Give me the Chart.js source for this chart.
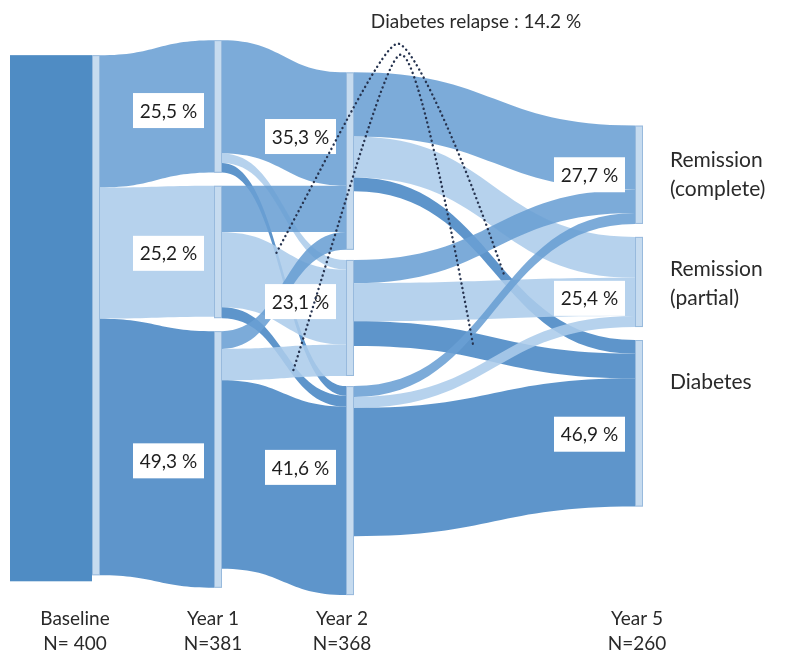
<!DOCTYPE html>
<html lang="en">
<head>
<meta charset="UTF-8">
<title>Diabetes remission after surgery</title>
<script src="https://cdn.jsdelivr.net/npm/chart.js@4.4.1/dist/chart.umd.min.js"></script>
<style>
    html, body { margin: 0; padding: 0; background: #fff; }
    #wrap { width: 785px; height: 662px; }
</style>
</head>
<body>
<div id="wrap"><canvas id="myChart"></canvas></div>
<script>
// Time points and sample sizes
const columns = ['Baseline', 'Year 1', 'Year 2', 'Year 5'];
const tickLabels = [['Baseline', 'N= 400'], ['Year 1', 'N=381'], ['Year 2', 'N=368'], ['Year 5', 'N=260']];
const columnN = [400, 381, 368, 260];
const states = [['Remission', '(complete)'], ['Remission', '(partial)'], ['Diabetes']];

// % in each state (complete, partial, diabetes)
const pctYear1 = [25.5, 25.2, 49.3];
const pctYear2 = [35.3, 23.1, 41.6];
const pctYear5 = [27.7, 25.4, 46.9];

// patients moving between states, rows = from, cols = to
const flowBaseYear1 = [[97, 96, 188]];
const flowYear1Year2 = [
    [83, 7, 7],
    [34, 55, 8],
    [13, 23, 138]
];
const flowYear2Year5 = [
    [47, 30, 10],
    [17, 28, 18],
    [8, 8, 94]
];
const relapseText = 'Diabetes relapse : 14.2 %';

// layout (x in px units, y in patient units)
const colX = [92, 214, 346, 635];
const barW = 8;
const baseBoxX = 10;
const colTop = [40.4, 29.4, 53, 92];
const colGap = [0, 9.5, 7.4, 9.5];
const tickX = [75, 213, 342, 637];
const pctShift = [[3, 1, 1], [-18, -12, -17], [0, 12, 8]];
const stateShift = [0, 1, -30];
const note = { x: 476, y: 16 };
// dotted loops: [left link, t, right link, t, peak x, peak y]
const loops = [
    [[1, 0, 2], 0.42, [2, 0, 2], 0.55, 398, 32],
    [[1, 1, 2], 0.6, [2, 1, 2], 0.4, 401, 40]
];

const flowColors = ['rgba(106,159,212,0.88)', 'rgba(172,204,234,0.88)', 'rgba(76,137,197,0.9)'];
const baseBoxColor = '#4f8cc4';
const barColor = '#c6dbef';
const font = 'Lato, "Noto Sans", sans-serif';

function buildLayout() {
    const pcts = [null, pctYear1, pctYear2, pctYear5];
    const mats = [flowBaseYear1, flowYear1Year2, flowYear2Year5];
    const nodes = [];
    for (let c = 0; c < columns.length; c++) {
        const count = c === 0 ? 1 : 3;
        const col = [];
        let y = colTop[c];
        for (let k = 0; k < count; k++) {
            const outSum = c < mats.length ? mats[c][k].reduce((a, b) => a + b, 0) : 0;
            const inSum = c > 0 ? mats[c - 1].reduce((a, row) => a + row[k], 0) : 0;
            const val = c === 0 ? 0 : pcts[c][k] * columnN[c] / 100;
            const h = Math.max(val, inSum, outSum);
            col.push({ top: y, h: h, pct: c === 0 ? null : pcts[c][k], outOff: 0, inOff: 0 });
            y += h + colGap[c];
        }
        nodes.push(col);
    }
    const links = [];
    mats.forEach((m, c) => {
        m.forEach((row, s) => {
            row.forEach((v, t) => {
                const src = nodes[c][s];
                links.push({ col: c, source: s, target: t, value: v, y0: src.top + src.outOff, y1: 0 });
                src.outOff += v;
            });
        });
        // target offsets follow source order
        for (let t = 0; t < 3; t++) {
            links.filter(l => l.col === c && l.target === t)
                .sort((a, b) => a.source - b.source)
                .forEach(l => {
                    const dst = nodes[c + 1][t];
                    l.y1 = dst.top + dst.inOff;
                    dst.inOff += l.value;
                });
        }
    });
    return { nodes, links };
}

const sankeyPlugin = {
    id: 'sankey',
    afterDraw(chart) {
        const ctx = chart.ctx;
        const xs = chart.scales.x, ys = chart.scales.y;
        const px = v => xs.getPixelForValue(v);
        const py = v => ys.getPixelForValue(v);
        const { nodes, links } = buildLayout();
        ctx.save();

        // flows
        links.forEach(l => {
            const x0 = px(colX[l.col] + barW), x1 = px(colX[l.col + 1]);
            const a0 = py(l.y0), a1 = py(l.y0 + l.value);
            const b0 = py(l.y1), b1 = py(l.y1 + l.value);
            const xm = (x0 + x1) / 2;
            ctx.beginPath();
            ctx.moveTo(x0, a0);
            ctx.bezierCurveTo(xm, a0, xm, b0, x1, b0);
            ctx.lineTo(x1, b1);
            ctx.bezierCurveTo(xm, b1, xm, a1, x0, a1);
            ctx.closePath();
            ctx.fillStyle = flowColors[l.target];
            ctx.fill();
        });

        // baseline box
        const b = nodes[0][0];
        ctx.fillStyle = baseBoxColor;
        ctx.fillRect(px(baseBoxX), py(b.top), px(colX[0]) - px(baseBoxX), py(b.top + b.h) - py(b.top) + 6);

        // node bars
        nodes.forEach((col, c) => {
            col.forEach(n => {
                const x = px(colX[c]), y = py(n.top);
                const h = py(n.top + n.h) - y;
                ctx.fillStyle = barColor;
                ctx.fillRect(x, y, barW, h);
                ctx.strokeStyle = 'rgba(140,178,216,0.8)';
                ctx.lineWidth = 1;
                ctx.strokeRect(x + 0.5, y + 0.5, barW - 1, h - 1);
            });
        });

        // percent boxes
        ctx.font = '19px ' + font;
        ctx.textAlign = 'center';
        ctx.textBaseline = 'middle';
        nodes.forEach((col, c) => {
            if (c === 0) return;
            col.forEach((n, k) => {
                const cy = py(n.top + n.h / 2 + pctShift[c - 1][k]);
                const right = px(colX[c]) - 10;
                const w = 71, h = 35;
                ctx.fillStyle = '#fff';
                ctx.fillRect(right - w, cy - h / 2, w, h);
                ctx.fillStyle = '#1e1e1e';
                ctx.fillText(n.pct.toFixed(1).replace('.', ',') + ' %', right - w / 2, cy + 1);
            });
        });

        // state names at the right
        ctx.font = '21px ' + font;
        ctx.textAlign = 'left';
        ctx.fillStyle = '#2a2a2a';
        nodes[3].forEach((n, k) => {
            const lines = states[k];
            const cy = py(n.top + n.h / 2 + stateShift[k]);
            const lh = 29;
            lines.forEach((s, i) => {
                ctx.fillText(s, px(colX[3] + barW) + 27, cy + (i - (lines.length - 1) / 2) * lh);
            });
        });

        // relapse note
        ctx.font = '19px ' + font;
        ctx.textAlign = 'center';
        ctx.fillStyle = '#2a2a2a';
        ctx.fillText(relapseText, px(note.x), py(note.y));

        // dotted loops along the relapse flows
        const linkPoint = (key, t) => {
            const l = links.find(q => q.col === key[0] && q.source === key[1] && q.target === key[2]);
            const x0 = px(colX[l.col] + barW), x1 = px(colX[l.col + 1]);
            const y0 = py(l.y0 + l.value / 2), y1 = py(l.y1 + l.value / 2);
            const xm = (x0 + x1) / 2, mt = 1 - t;
            return {
                x: mt * mt * mt * x0 + 3 * mt * mt * t * xm + 3 * mt * t * t * xm + t * t * t * x1,
                y: mt * mt * mt * y0 + 3 * mt * mt * t * y0 + 3 * mt * t * t * y1 + t * t * t * y1
            };
        };
        ctx.strokeStyle = '#26334f';
        ctx.lineWidth = 2.4;
        ctx.lineCap = 'round';
        ctx.setLineDash([0.1, 4.6]);
        loops.forEach(lp => {
            const L = linkPoint(lp[0], lp[1]);
            const R = linkPoint(lp[2], lp[3]);
            const P = { x: px(lp[4]), y: py(lp[5]) };
            ctx.beginPath();
            ctx.moveTo(L.x, L.y);
            ctx.bezierCurveTo(L.x + 0.55 * (P.x - L.x), L.y - 0.6 * (L.y - P.y), P.x - 14, P.y, P.x, P.y);
            ctx.bezierCurveTo(P.x + 14, P.y, R.x - 0.45 * (R.x - P.x), R.y - 0.6 * (R.y - P.y), R.x, R.y);
            ctx.stroke();
        });
        ctx.restore();
    }
};

window.addEventListener('DOMContentLoaded', () => {
    const ctx = document.getElementById('myChart').getContext('2d');
    new Chart(ctx, {
        type: 'scatter',
        data: { datasets: [] },
        options: {
            responsive: true,
            maintainAspectRatio: false,
            animation: false,
            layout: { padding: { left: 0, right: 0, top: 0, bottom: 2 } },
            plugins: { legend: { display: false }, tooltip: { enabled: false } },
            scales: {
                x: {
                    type: 'linear',
                    min: 0,
                    max: 785,
                    grid: { display: false, drawTicks: false },
                    border: { display: false },
                    afterBuildTicks: axis => { axis.ticks = tickX.map(v => ({ value: v })); },
                    ticks: {
                        autoSkip: false,
                        maxRotation: 0,
                        padding: 4,
                        color: '#2a2a2a',
                        font: { family: font, size: 19, lineHeight: 1.3 },
                        callback: (v, i) => tickLabels[i]
                    }
                },
                y: { type: 'linear', reverse: true, min: 0, max: 441.4, display: false }
            }
        },
        plugins: [sankeyPlugin]
    });
});
</script>
</body>
</html>
